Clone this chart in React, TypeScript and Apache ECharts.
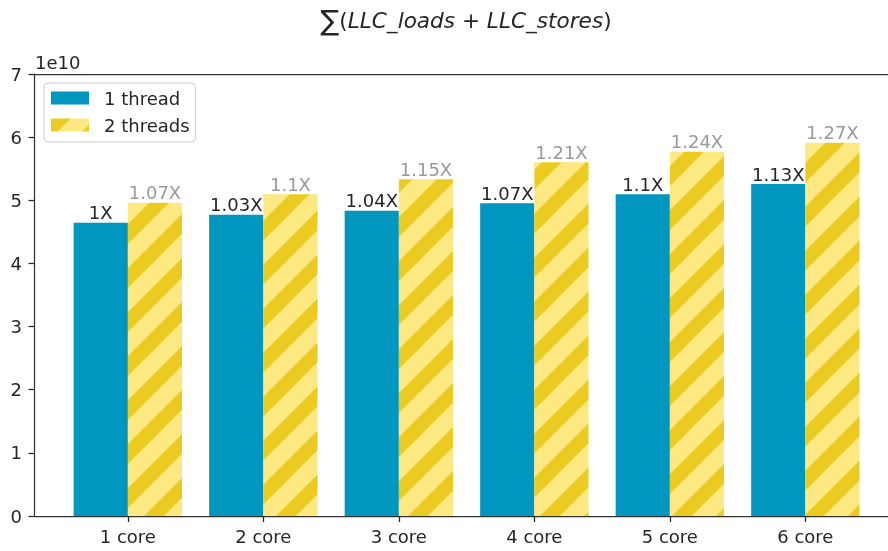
import React, { useEffect, useRef } from "react";
import * as echarts from "echarts";

const categories = ["1 core", "2 core", "3 core", "4 core", "5 core", "6 core"];
const categoryPositions = [0, 1, 2, 3, 4, 5];
const oneThread = [4.643, 4.77, 4.833, 4.955, 5.097, 5.256];
const twoThreads = [4.96, 5.097, 5.335, 5.604, 5.767, 5.91];
const oneThreadLabels = ["1X", "1.03X", "1.04X", "1.07X", "1.1X", "1.13X"];
const twoThreadLabels = ["1.07X", "1.1X", "1.15X", "1.21X", "1.24X", "1.27X"];
const seriesNames = ["1 thread", "2 threads"];

const FONT = "DejaVu Sans";
const INK = "#262626";

function makeStripes(): HTMLCanvasElement {
  const P = 44;
  const c = document.createElement("canvas");
  c.width = P;
  c.height = P;
  const ctx = c.getContext("2d")!;
  ctx.fillStyle = "#fde882";
  ctx.fillRect(0, 0, P, P);
  ctx.fillStyle = "#ebcb22";
  const d = 0.45 * P;
  for (let k = -1; k <= 2; k++) {
    const c0 = k * P;
    const c1 = k * P + d;
    ctx.beginPath();
    ctx.moveTo(c0, 0);
    ctx.lineTo(c1, 0);
    ctx.lineTo(c1 - P, P);
    ctx.lineTo(c0 - P, P);
    ctx.closePath();
    ctx.fill();
  }
  return c;
}

export default function App() {
  const ref = useRef<HTMLDivElement>(null);
  useEffect(() => {
    if (!ref.current) return;
    const chart = echarts.init(ref.current, null, { renderer: "svg" });
    const stripes = makeStripes();
    const pattern: any = {
      image: stripes,
      repeat: "repeat",
      imageWidth: 44,
      imageHeight: 44,
    };
    const unit = 135.5;
    const xmin = -0.689;
    const xmax = 5.69;
    const spine = { show: true, onZero: false, lineStyle: { color: "#333", width: 1.25 } };
    chart.setOption({
      animation: false,
      grid: {
        left: 34.5,
        top: 74,
        width: (xmax - xmin) * unit,
        height: 442,
        show: false,
        containLabel: false,
      },
      legend: {
        data: seriesNames,
        orient: "vertical",
        left: 44,
        top: 83,
        icon: "rect",
        itemWidth: 38,
        itemHeight: 13,
        itemGap: 9,
        padding: [6, 6, 8, 7],
        borderColor: "#cccccc",
        borderWidth: 1,
        borderRadius: 4,
        backgroundColor: "rgba(255,255,255,0.8)",
        textStyle: {
          fontFamily: FONT,
          fontSize: 18,
          color: INK,
          lineHeight: 18,
          padding: [0, 0, 0, 10],
        },
      },
      xAxis: [
        {
          type: "value",
          min: xmin,
          max: xmax,
          splitLine: { show: false },
          axisLine: spine,
          axisTick: {
            show: true,
            length: 6,
            customValues: categoryPositions,
            lineStyle: { color: INK, width: 1.25 },
          },
          axisLabel: {
            customValues: categoryPositions,
            formatter: (v: number) => categories[Math.round(v)] ?? "",
            fontFamily: FONT,
            fontSize: 18,
            color: INK,
            margin: 11,
          },
        },
        {
          type: "value",
          position: "top",
          min: xmin,
          max: xmax,
          splitLine: { show: false },
          axisLine: spine,
          axisTick: { show: false },
          axisLabel: { show: false },
        },
      ],
      yAxis: {
        type: "value",
        min: 0,
        max: 7,
        interval: 1,
        splitLine: { show: false },
        axisLine: spine,
        axisTick: { show: true, length: 6, lineStyle: { color: INK, width: 1.25 } },
        axisLabel: {
          fontFamily: FONT,
          fontSize: 18,
          color: INK,
          margin: 12.5,
        },
      },
      series: [
        {
          name: seriesNames[0],
          type: "bar",
          barWidth: 0.4 * unit,
          barGap: "0%",
          itemStyle: { color: "#0096bf" },
          data: oneThread.map((v, i) => [categoryPositions[i], v]),
          label: {
            show: true,
            position: "top",
            distance: 1,
            formatter: (p: any) => oneThreadLabels[p.dataIndex],
            fontFamily: FONT,
            fontSize: 18,
            color: INK,
          },
        },
        {
          name: seriesNames[1],
          type: "bar",
          barWidth: 0.4 * unit,
          barGap: "0%",
          itemStyle: { color: pattern },
          data: twoThreads.map((v, i) => [categoryPositions[i], v]),
          label: {
            show: true,
            position: "top",
            distance: 1,
            formatter: (p: any) => twoThreadLabels[p.dataIndex],
            fontFamily: FONT,
            fontSize: 18,
            color: "#9a9a9a",
          },
        },
      ],
      graphic: [
        {
          type: "text",
          x: 466,
          y: 20,
          style: {
            text: "{s|∑}{n|(}{i|LLC_loads}{n| + }{i|LLC_stores}{n|)}",
            align: "center",
            verticalAlign: "middle",
            fill: INK,
            rich: {
              s: { fontFamily: FONT, fontSize: 28, fill: INK },
              n: { fontFamily: FONT, fontSize: 21.6, fill: INK },
              i: { fontFamily: FONT, fontSize: 21.6, fontStyle: "italic", fill: INK },
            },
          },
        },
        {
          type: "text",
          x: 35,
          y: 62,
          style: {
            text: "1e10",
            fontFamily: FONT,
            fontSize: 18,
            fill: INK,
            align: "left",
            verticalAlign: "middle",
          },
        },
      ],
    });
    return () => chart.dispose();
  }, []);
  return (
    <div
      style={{
        position: "fixed",
        left: 0,
        top: 0,
        width: 888,
        height: 551,
        overflow: "hidden",
      }}
    >
      <div ref={ref} style={{ width: 920, height: 551 }} />
    </div>
  );
}
